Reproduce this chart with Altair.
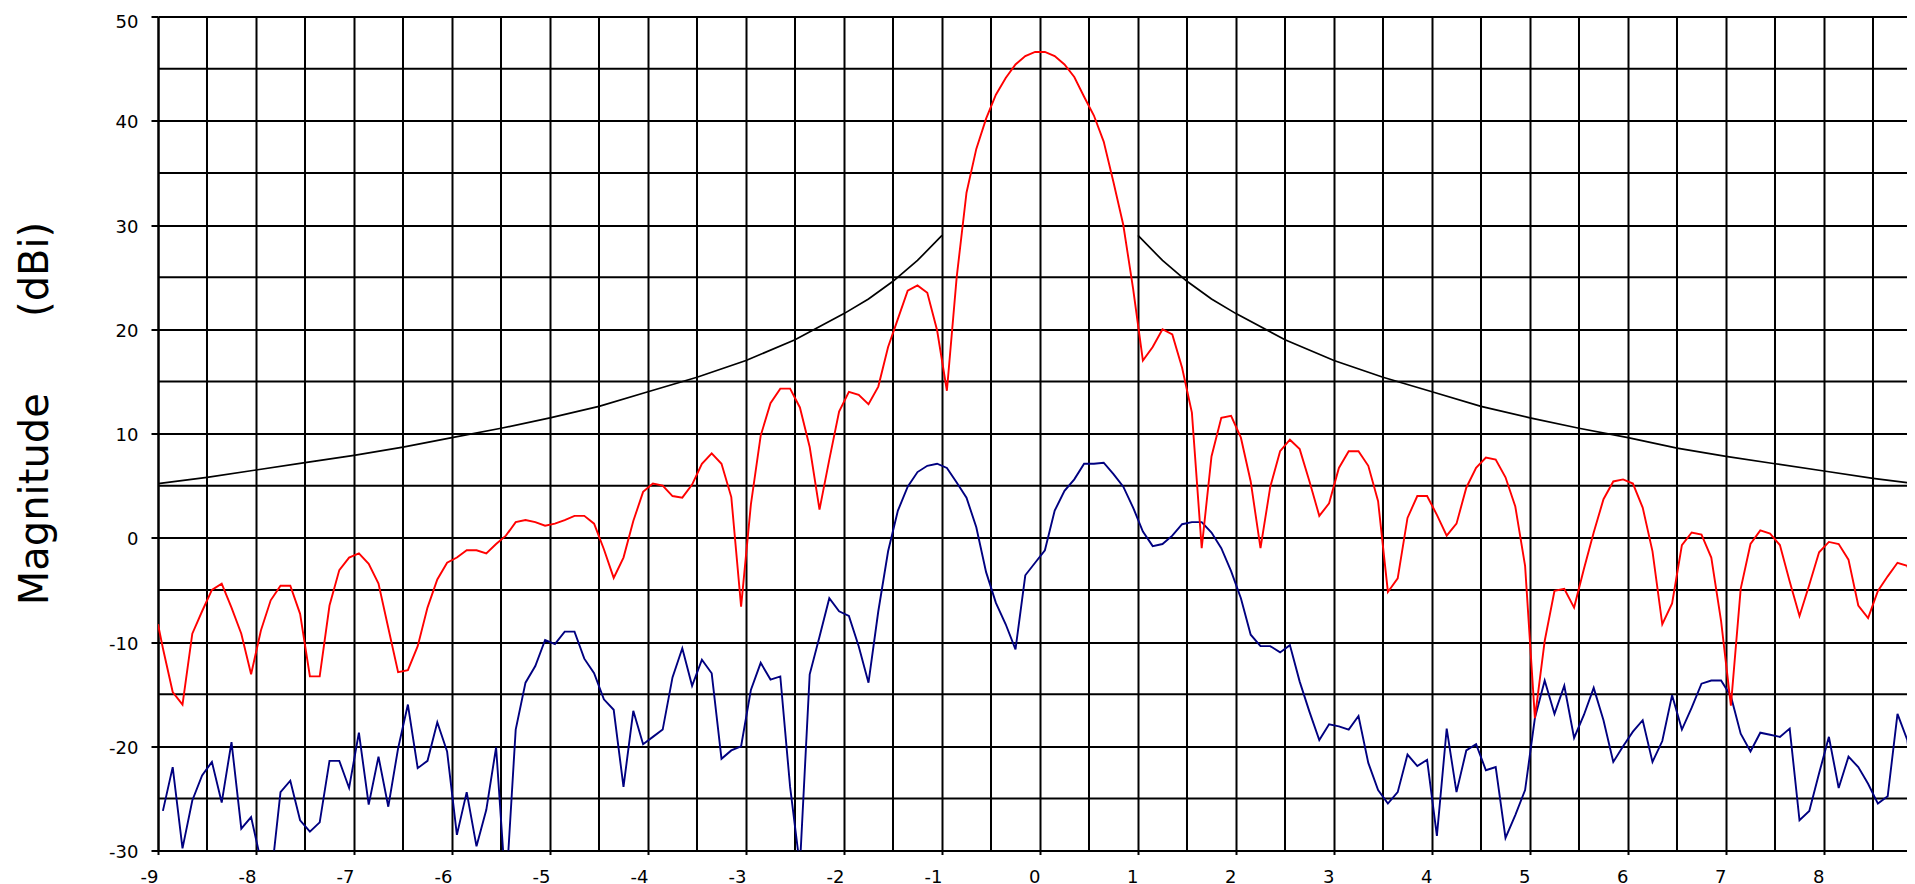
import altair as alt
import pandas as pd

# sampling grid of the measured patterns (degrees)
angles = [round(-8.95 + 0.1 * i, 2) for i in range(180)]

# red: co-polar pattern (dBi)
red_db = [
    -10.6, -14.8, -16.0, -9.2, -7.05, -5.0, -4.4, -6.7, -9.2, -13.1,
    -8.9, -6.0, -4.6, -4.6, -7.3, -13.3, -13.3, -6.5, -3.1, -1.9,
    -1.5, -2.5, -4.4, -8.65, -12.9, -12.7, -10.4, -6.7, -4.0, -2.4,
    -1.9, -1.2, -1.2, -1.5, -0.6, 0.2, 1.5, 1.7, 1.5, 1.15,
    1.35, 1.7, 2.1, 2.1, 1.35, -1.1, -3.85, -1.9, 1.6, 4.4,
    5.2, 5.0, 4.0, 3.85, 5.1, 7.1, 8.1, 7.1, 3.9, -6.6,
    3.2, 9.8, 12.9, 14.3, 14.3, 12.5, 8.7, 2.7, 7.5, 12.1,
    14.0, 13.7, 12.8, 14.5, 18.3, 21.0, 23.7, 24.2, 23.5, 19.9,
    14.1, 25.0, 33.1, 37.3, 40.2, 42.5, 44.1, 45.4, 46.2, 46.6,
    46.6, 46.2, 45.4, 44.2, 42.3, 40.5, 38.0, 34.1, 30.0, 23.9,
    17.0, 18.3, 20.0, 19.5, 16.3, 12.0, -1.0, 7.8, 11.5, 11.7,
    9.6, 5.4, -1.0, 4.9, 8.3, 9.4, 8.5, 5.4, 2.1, 3.3,
    6.7, 8.3, 8.3, 6.9, 3.5, -5.2, -3.9, 1.9, 4.0, 4.0,
    2.2, 0.2, 1.35, 4.8, 6.7, 7.7, 7.5, 5.8, 3.0, -2.7,
    -17.3, -9.9, -5.1, -4.9, -6.7, -3.0, 0.5, 3.7, 5.4, 5.6,
    5.2, 2.9, -1.3, -8.3, -6.3, -0.7, 0.5, 0.3, -1.9, -8.0,
    -16.1, -4.9, -0.6, 0.7, 0.4, -0.7, -4.2, -7.5, -4.5, -1.4,
    -0.4, -0.6, -2.1, -6.5, -7.7, -5.1, -3.7, -2.4, -2.7, -6.0,
]
red_start_angle = -9.0
red_start_db = -8.3

# blue: cross-polar pattern (dBi)
blue_db = [
    -26.2, -22.0, -29.8, -25.2, -22.8, -21.5, -25.4, -19.6, -27.9, -26.8,
    -31.0, -33.0, -24.4, -23.3, -27.1, -28.2, -27.3, -21.4, -21.4, -24.0,
    -18.7, -25.6, -21.0, -25.8, -20.2, -16.0, -22.1, -21.4, -17.7, -20.5,
    -28.5, -24.4, -29.6, -26.1, -20.1, -34.0, -18.4, -13.9, -12.3, -9.8,
    -10.2, -9.0, -9.0, -11.6, -13.0, -15.5, -16.5, -23.9, -16.6, -19.8,
    -19.1, -18.4, -13.4, -10.6, -14.2, -11.7, -13.0, -21.2, -20.4, -20.0,
    -14.6, -12.0, -13.6, -13.3, -23.9, -31.5, -13.1, -9.5, -5.8, -7.05,
    -7.5, -10.4, -13.9, -7.05, -1.3, 2.6, 4.9, 6.3, 6.9, 7.1,
    6.7, 5.3, 3.85, 1.0, -3.3, -6.25, -8.3, -10.7, -3.6, -2.4,
    -1.2, 2.6, 4.5, 5.6, 7.1, 7.1, 7.2, 6.1, 4.9, 2.9,
    0.6, -0.8, -0.6, 0.2, 1.3, 1.5, 1.5, 0.5, -1.0, -3.2,
    -5.8, -9.3, -10.4, -10.4, -11.0, -10.3, -13.8, -16.7, -19.4, -17.9,
    -18.1, -18.4, -17.1, -21.6, -24.2, -25.5, -24.4, -20.8, -21.9, -21.3,
    -28.6, -18.3, -24.4, -20.4, -19.8, -22.3, -22.0, -28.8, -26.6, -24.2,
    -17.3, -13.7, -16.9, -14.2, -19.2, -17.0, -14.4, -17.5, -21.5, -20.0,
    -18.6, -17.5, -21.5, -19.5, -15.1, -18.4, -16.3, -14.0, -13.7, -13.7,
    -15.2, -18.8, -20.5, -18.7, -18.9, -19.1, -18.3, -27.1, -26.2, -22.6,
    -19.1, -24.0, -21.0, -22.0, -23.6, -25.5, -24.8, -16.9, -19.4, -27.0,
]

# black: envelope (two separate branches)
mask_left_angles = [-9, -8.5, -8, -7.5, -7, -6.5, -6, -5.5, -5, -4.5, -4,
                    -3.5, -3, -2.5, -2, -1.75, -1.5, -1.25, -1]
mask_left_db = [5.2, 5.8, 6.5, 7.2, 7.9, 8.7, 9.6, 10.5, 11.5, 12.6, 14.0,
                15.4, 17.0, 19.0, 21.5, 22.9, 24.6, 26.6, 29.0]
mask_right_angles = [1, 1.25, 1.5, 1.75, 2, 2.5, 3, 3.5, 4, 4.5, 5, 5.5, 6,
                     6.5, 7, 7.5, 8, 8.5, 9]
mask_right_db = [29.0, 26.6, 24.6, 22.9, 21.5, 19.0, 17.0, 15.4, 14.0, 12.6,
                 11.5, 10.5, 9.6, 8.6, 7.8, 7.1, 6.4, 5.7, 5.1]

# axes / grid
x_label_values = [-9, -8, -7, -6, -5, -4, -3, -2, -1, 0, 1, 2, 3, 4, 5, 6, 7, 8]
x_half_lines = [-8.5, -7.5, -6.5, -5.5, -4.5, -3.5, -2.5, -1.5, -0.5,
                0.5, 1.5, 2.5, 3.5, 4.5, 5.5, 6.5, 7.5, 8.5]
y_label_values = [-30, -20, -10, 0, 10, 20, 30, 40, 50]
y_half_lines = [-25, -15, -5, 5, 15, 25, 35, 45]
x_domain = [-9, 8.847]
y_domain = [-30, 50]
y_title = "Magnitude" + "\u00a0" * 6 + "(dBi)"

red_df = pd.DataFrame({"angle": [red_start_angle] + angles,
                       "db": [red_start_db] + red_db})
blue_df = pd.DataFrame({"angle": angles, "db": blue_db})
mask_df = pd.DataFrame({
    "angle": mask_left_angles + mask_right_angles,
    "db": mask_left_db + mask_right_db,
    "seg": ["L"] * len(mask_left_angles) + ["R"] * len(mask_right_angles),
})
xr_df = pd.DataFrame({"angle": x_half_lines})
yr_df = pd.DataFrame({"db": y_half_lines})

FONT = "DejaVu Sans"

x_axis = alt.Axis(
    values=x_label_values, title="", grid=True, gridColor="black",
    gridWidth=2, gridOpacity=1, domain=True, domainColor="black",
    domainWidth=2, ticks=True, tickSize=4, tickColor="black", tickWidth=2,
    labelFont=FONT, labelFontSize=18, labelColor="black", labelAlign="right",
    labelPadding=14, labelFlush=False, labelOverlap=False,
    labelBaseline="top", labelExpr="'' + datum.value",
)
y_axis = alt.Axis(
    values=y_label_values, title=y_title, grid=True, gridColor="black",
    gridWidth=2, gridOpacity=1, domain=True, domainColor="black",
    domainWidth=2, ticks=True, tickSize=7, tickColor="black", tickWidth=2,
    labelFont=FONT, labelFontSize=18, labelColor="black", labelPadding=13,
    labelBaseline="middle",
    labelOffset={"condition": {"test": "datum.value == 50", "value": 6},
                 "value": 2},
    labelFlush=False, labelOverlap=False, labelExpr="'' + datum.value",
    titleFont=FONT, titleFontSize=40, titleFontWeight="normal",
    titleColor="black", titleAngle=270, titleAlign="center",
    titleBaseline="alphabetic", titleX=-111, titleY=396.5,
)
xs = alt.Scale(domain=x_domain, nice=False, zero=False)
ys = alt.Scale(domain=y_domain, nice=False, zero=False)

x_rules = alt.Chart(xr_df).mark_rule(color="black", strokeWidth=2).encode(
    x=alt.X("angle:Q", scale=xs, axis=x_axis)
)
y_rules = alt.Chart(yr_df).mark_rule(color="black", strokeWidth=2).encode(
    y=alt.Y("db:Q", scale=ys, axis=y_axis)
)
mask = alt.Chart(mask_df).mark_line(color="black", strokeWidth=1.7, clip=True).encode(
    x=alt.X("angle:Q", scale=xs, axis=x_axis),
    y=alt.Y("db:Q", scale=ys, axis=y_axis),
    detail="seg:N",
)
blue = alt.Chart(blue_df).mark_line(color="#000080", strokeWidth=1.9, clip=True).encode(
    x=alt.X("angle:Q", scale=xs, axis=x_axis),
    y=alt.Y("db:Q", scale=ys, axis=y_axis),
)
red = alt.Chart(red_df).mark_line(color="#ff0000", strokeWidth=1.9, clip=True).encode(
    x=alt.X("angle:Q", scale=xs, axis=x_axis),
    y=alt.Y("db:Q", scale=ys, axis=y_axis),
)

chart = alt.layer(y_rules, x_rules, mask, blue, red).properties(
    width=1749,
    height=834,
    autosize=alt.AutoSizeParams(type="none"),
    padding={"left": 150, "top": 8.5, "right": 0, "bottom": 37},
    background="white",
).configure_view(strokeWidth=0)

chart.save("out.html", embed_options={"renderer": "svg", "actions": False})
